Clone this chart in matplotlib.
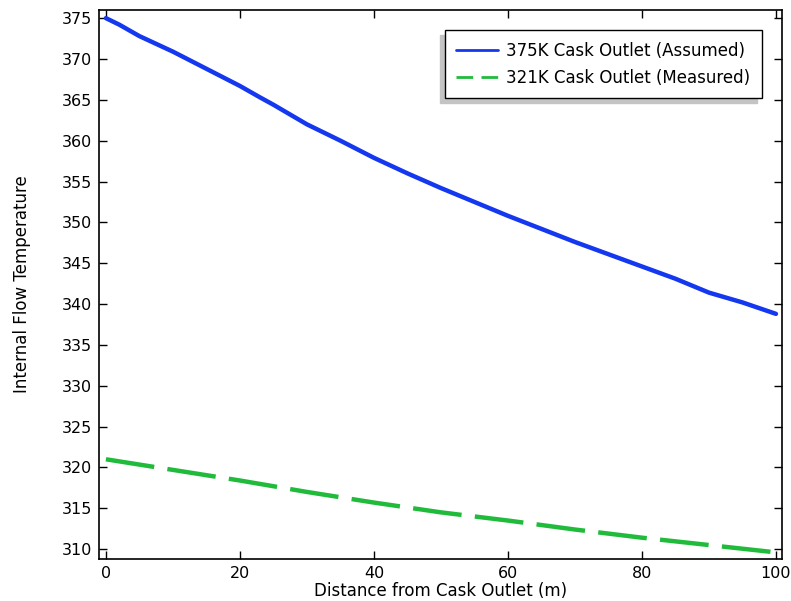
import numpy as np
import matplotlib
matplotlib.use('Agg')
import matplotlib.pyplot as plt

# distance from cask outlet (m)
dist_assumed = [0, 2, 5, 10, 15, 20, 23, 25, 30, 35, 40, 45, 50, 55, 60,
                65, 70, 75, 80, 85, 90, 95, 100]
temp_assumed = [375.0, 374.2, 372.8, 370.9, 368.8, 366.7, 365.3, 364.4, 362.0, 360.0, 357.9, 356.0,
                354.2, 352.5, 350.8, 349.2, 347.6, 346.1, 344.6, 343.1, 341.4, 340.2, 338.8]

dist_measured = [0, 10, 20, 30, 40, 50, 60, 70, 80, 90, 100]
temp_measured = [321.0, 319.7, 318.4, 317.0, 315.7, 314.5, 313.5, 312.4, 311.4, 310.5, 309.6]

plt.rcParams['font.family'] = 'DejaVu Sans'
plt.rcParams['font.size'] = 11

fig = plt.figure(figsize=(7.91, 6.01), dpi=100)
ax = fig.add_axes([0.125, 0.07, 0.8636, 0.9134])

ax.plot(dist_assumed, temp_assumed, color='#1437f0', lw=3.2, solid_capstyle='round',
        label='375K Cask Outlet (Assumed)')
l2, = ax.plot(dist_measured, temp_measured, color='#21bb3c', lw=3.2,
              label='321K Cask Outlet (Measured)')
l2.set_dashes((11, 3))

ax.set_xlim(-1.05, 100.9)
ax.set_ylim(308.8, 376.0)
ax.set_xticks(np.arange(0, 101, 20))
ax.set_yticks(np.arange(310, 376, 5))
ax.tick_params(direction='in', length=6, width=1, top=True, right=True,
               labelsize=11.5, pad=5, color='black')
for s in ax.spines.values():
    s.set_linewidth(1.2)

ax.set_xlabel('Distance from Cask Outlet (m)', fontsize=12, labelpad=1)
ax.set_ylabel('Internal Flow Temperature', fontsize=12, labelpad=22)

leg = ax.legend(loc='upper right', bbox_to_anchor=(0.9707, 0.9636), borderaxespad=0,
                fancybox=False, edgecolor='black', framealpha=1, fontsize=12,
                handlelength=2.5, borderpad=0.7, labelspacing=0.55, handletextpad=0.5,
                shadow={'ox': -3.5, 'oy': -3.5, 'color': '#c4c4c4', 'alpha': 1})
leg.get_frame().set_linewidth(1.0)
hl = leg.get_lines()
for h in hl:
    h.set_linewidth(2)
hl[1].set_dashes((6, 3))

fig.savefig('out.png', dpi=100)
